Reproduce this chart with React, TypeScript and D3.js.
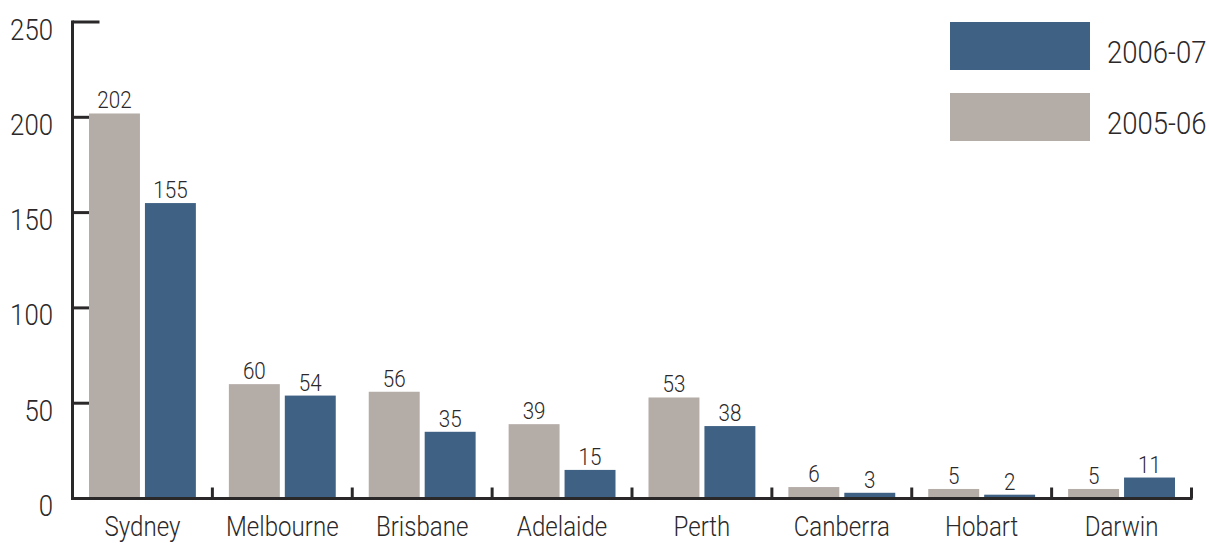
import React from "react";
import * as d3 from "d3";

const cities = ["Sydney", "Melbourne", "Brisbane", "Adelaide", "Perth", "Canberra", "Hobart", "Darwin"];
const series = ["2005-06", "2006-07"];
const values0506 = [202, 60, 56, 39, 53, 6, 5, 5];
const values0607 = [155, 54, 35, 15, 38, 3, 2, 11];
const yTicks = [0, 50, 100, 150, 200, 250];
const legendOrder = ["2006-07", "2005-06"];

const colors: Record<string, string> = { "2005-06": "#b4aca7", "2006-07": "#3f6184" };
const ink = "#2b2829";
const FONT = "Roboto, 'Liberation Sans', Arial, sans-serif";
const NARROW = 0.86;

const W = 1209;
const H = 543;
const left = 72.5;
const right = 1191.5;
const top = 22;
const bottom = 498.5;

type LabelProps = {
  x: number;
  y: number;
  size: number;
  anchor?: "start" | "middle" | "end";
  children: React.ReactNode;
};

// Condensed-looking text: horizontally squeezed around its anchor point.
function Label({ x, y, size, anchor = "start", children }: LabelProps) {
  return (
    <text
      transform={`translate(${x},${y}) scale(${NARROW},1)`}
      textAnchor={anchor}
      fontSize={size}
      fontWeight={300}
      fill={ink}
    >
      {children}
    </text>
  );
}

export default function App() {
  const x = d3.scaleBand<string>().domain(cities).range([left, right]).paddingInner(0).paddingOuter(0);
  const xs = d3
    .scaleBand<string>()
    .domain(series)
    .range([16.5, x.bandwidth() - 16.5])
    .paddingInner(5 / 56)
    .paddingOuter(0);
  const y = d3.scaleLinear().domain([0, 250]).range([bottom, top]);

  const rows = cities.map((c, i) => ({ city: c, vals: { "2005-06": values0506[i], "2006-07": values0607[i] } as Record<string, number> }));
  const boundaries = cities.map((c) => (x(c) as number) + x.bandwidth());

  return (
    <svg width={W} height={H} style={{ position: "absolute", left: 0, top: 0, background: "#fff" }} fontFamily={FONT}>
      {/* y ticks and labels */}
      {yTicks.map((t) => (
        <g key={t}>
          <line x1={left} x2={left + 27} y1={y(t)} y2={y(t)} stroke={ink} strokeWidth={3} />
          <Label x={53} y={y(t) + 17.5} size={30} anchor="end">
            {t}
          </Label>
        </g>
      ))}

      {/* bars and value labels */}
      {rows.map((r) => (
        <g key={r.city} transform={`translate(${x(r.city)},0)`}>
          {series.map((s) => {
            const v = r.vals[s];
            const bx = xs(s) as number;
            return (
              <g key={s}>
                <rect x={bx} y={y(v)} width={xs.bandwidth()} height={bottom - y(v)} fill={colors[s]} />
                <Label x={bx + xs.bandwidth() / 2} y={y(v) - 5} size={24} anchor="middle">
                  {v}
                </Label>
              </g>
            );
          })}
          <Label x={x.bandwidth() / 2} y={536} size={28} anchor="middle">
            {r.city}
          </Label>
        </g>
      ))}

      {/* axis lines */}
      <line x1={left} x2={left} y1={top - 1.5} y2={bottom + 1.5} stroke={ink} strokeWidth={3} />
      <line x1={left - 1.5} x2={right + 1} y1={bottom} y2={bottom} stroke={ink} strokeWidth={3} />
      {boundaries.map((bx, i) => (
        <line key={i} x1={bx} x2={bx} y1={bottom} y2={bottom - 11} stroke={ink} strokeWidth={3} />
      ))}

      {/* legend */}
      {legendOrder.map((s, i) => (
        <g key={s} transform={`translate(950,${22 + i * 71})`}>
          <rect x={0} y={0} width={140} height={48} fill={colors[s]} />
          <Label x={157} y={41} size={32}>
            {s}
          </Label>
        </g>
      ))}
    </svg>
  );
}
